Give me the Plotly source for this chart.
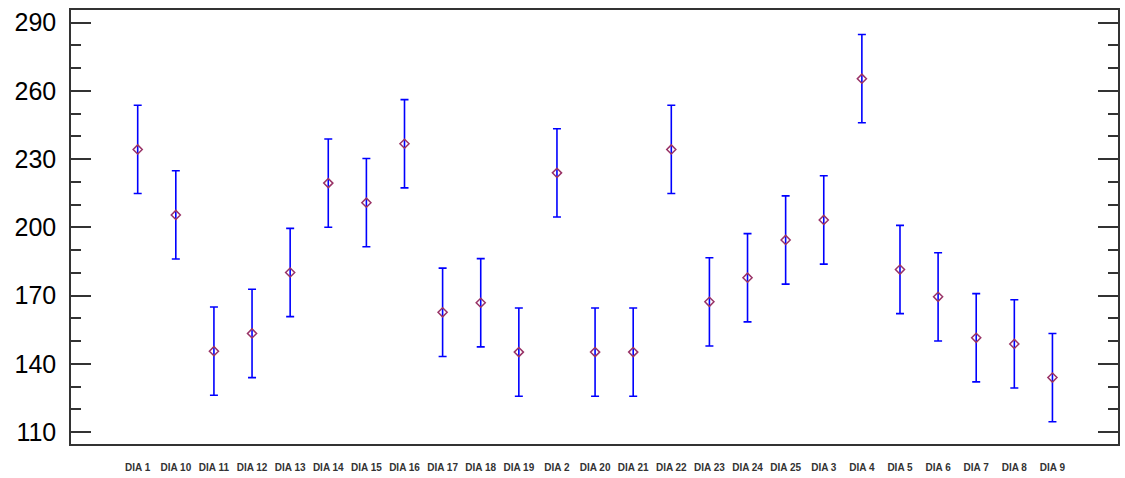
import plotly.graph_objects as go

# Group labels (sorted as text, as the stats package lists them)
dias = ["DIA 1", "DIA 10", "DIA 11", "DIA 12", "DIA 13", "DIA 14", "DIA 15",
        "DIA 16", "DIA 17", "DIA 18", "DIA 19", "DIA 2", "DIA 20", "DIA 21",
        "DIA 22", "DIA 23", "DIA 24", "DIA 25", "DIA 3", "DIA 4", "DIA 5",
        "DIA 6", "DIA 7", "DIA 8", "DIA 9"]

# Group means
means = [234.3, 205.5, 145.6, 153.4, 180.2, 219.5, 210.9,
         236.8, 162.7, 166.9, 145.2, 224.0, 145.2, 145.2,
         234.3, 167.3, 177.9, 194.5, 203.3, 265.4, 181.5,
         169.5, 151.5, 148.8, 134.0]

# Half-widths of the intervals around each mean
half_width = [19.4, 19.4, 19.4, 19.4, 19.4, 19.4, 19.4,
              19.4, 19.4, 19.4, 19.4, 19.4, 19.4, 19.4,
              19.4, 19.4, 19.4, 19.4, 19.4, 19.4, 19.4,
              19.4, 19.4, 19.4, 19.4]

y_ticks = [110, 140, 170, 200, 230, 260, 290]
y_minor = [120, 130, 150, 160, 180, 190, 210, 220, 240, 250, 270, 280]

x_pos = list(range(len(dias)))

fig = go.Figure()
fig.add_trace(go.Scatter(
    x=x_pos,
    y=means,
    mode="markers",
    marker=dict(symbol="diamond-open", size=7, color="#993366",
                line=dict(width=1.5, color="#993366")),
    error_y=dict(type="data", array=half_width, visible=True,
                 color="#0000ff", thickness=1.6, width=4),
    showlegend=False,
    hoverinfo="skip",
))

axis_color = "#333333"

fig.update_layout(
    width=1125,
    height=478,
    margin=dict(l=71, r=5, t=10, b=29),
    paper_bgcolor="white",
    plot_bgcolor="white",
    font=dict(family="Liberation Sans, Arial, sans-serif", color="black"),
)

fig.update_xaxes(
    range=[-1.75, 24 + 1.72],
    tickmode="array",
    tickvals=x_pos,
    ticktext=["<b>%s</b>" % d for d in dias],
    ticks="",
    tickfont=dict(size=10, color="#333333"),
    ticklabelstandoff=13,
    showgrid=False,
    zeroline=False,
    showline=True,
    linecolor=axis_color,
    linewidth=1.5,
    mirror=True,
)

fig.update_yaxes(
    range=[104.8, 295.6],
    tickmode="array",
    tickvals=y_ticks,
    ticks="inside",
    ticklen=20,
    tickwidth=1.5,
    tickcolor=axis_color,
    tickfont=dict(size=25, color="black"),
    ticklabelstandoff=8,
    minor=dict(ticks="inside", ticklen=10, tickwidth=1.5, tickcolor=axis_color,
               tickvals=y_minor, showgrid=False),
    showgrid=False,
    zeroline=False,
    showline=True,
    linecolor=axis_color,
    linewidth=1.5,
    mirror="ticks",
)

fig.write_html("out.html")
